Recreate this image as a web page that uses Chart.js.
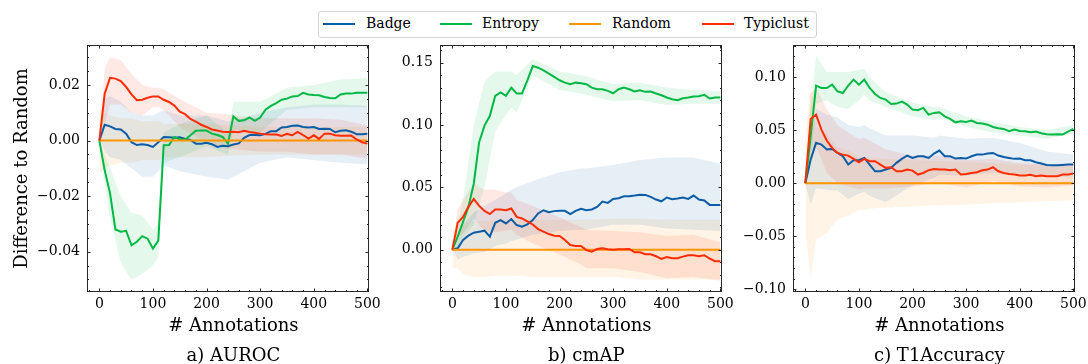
<!DOCTYPE html>
<html>
<head>
<meta charset="utf-8">
<script src="https://cdn.jsdelivr.net/npm/chart.js@4.4.0/dist/chart.umd.min.js"></script>
<style>
  html, body { margin: 0; padding: 0; background: #fff; }
  #wrap { position: relative; width: 1088px; height: 364px; overflow: hidden; }
  #wrap canvas { position: absolute; left: 0; top: 0; }
  #legend {
    position: absolute; left: 318px; top: 11px; width: 497px; height: 25px;
    border: 1px solid #d6d6d6; border-radius: 3px; background: #fff;
    font: 14px 'DejaVu Serif', serif; color: #000; z-index: 5;
  }
  #legend .swatch { position: absolute; top: 11px; width: 32px; height: 2.4px; }
  #legend .label { position: absolute; top: 3px; line-height: 17px; white-space: nowrap; }
</style>
</head>
<body>
<div id="wrap">
  <canvas id="c1" width="1088" height="364"></canvas>
  <canvas id="c2" width="1088" height="364"></canvas>
  <canvas id="c3" width="1088" height="364"></canvas>
  <div id="legend"></div>
</div>
<script>
// x values (annotations) of the mean lines and of the std bands
const annotations = [0, 10, 20, 30, 40, 50, 60, 70, 80, 90, 100, 110, 120, 130, 140, 150, 160, 170, 180, 190, 200,
  210, 220, 230, 240, 250, 260, 270, 280, 290, 300, 310, 320, 330, 340, 350, 360, 370, 380, 390, 400,
  410, 420, 430, 440, 450, 460, 470, 480, 490, 500];
const bandSteps = [0, 10, 20, 40, 60, 80, 100, 110, 120, 150, 200, 240, 250, 300, 350, 400, 450, 500];

const methods = ['Badge', 'Entropy', 'Random', 'Typiclust'];
const methodColors = ['#0C5DA5', '#00B945', '#FF9500', '#FF2C00'];
const xTicks = [0, 100, 200, 300, 400, 500];

// Random is the reference, so its difference is always zero
const randomLine = [0, 0, 0, 0, 0, 0, 0, 0, 0, 0, 0, 0, 0, 0, 0, 0, 0, 0, 0, 0, 0, 0, 0, 0, 0, 0,
  0, 0, 0, 0, 0, 0, 0, 0, 0, 0, 0, 0, 0, 0, 0, 0, 0, 0, 0, 0, 0, 0, 0, 0, 0];

// a) AUROC
const aurocTicks = [-0.04, -0.02, 0, 0.02];
const aurocBadge = [0, 0.0057, 0.0051, 0.0042, 0.0040, 0.0025, -0.0006, -0.0016, -0.0013, -0.0016, -0.0023, -0.0006, 0.0013, 0.0012, 0.0010, 0.0012, 0.0006, 0.0002, -0.0011, -0.0011, -0.0008, -0.0013, -0.0023, -0.0019, -0.0020, -0.0014, -0.0010, 0.0010, 0.0020, 0.0020, 0.0019, 0.0024, 0.0034, 0.0034, 0.0047, 0.0049, 0.0053, 0.0054, 0.0049, 0.0047, 0.0049, 0.0042, 0.0043, 0.0042, 0.0030, 0.0035, 0.0037, 0.0032, 0.0023, 0.0023, 0.0025];
const aurocEntropy = [0, -0.0107, -0.0190, -0.0320, -0.0328, -0.0325, -0.0377, -0.0364, -0.0344, -0.0353, -0.0389, -0.0360, -0.0017, -0.0016, 0.0013, 0.0004, 0.0004, 0.0019, 0.0035, 0.0036, 0.0036, 0.0025, 0.0020, 0.0013, -0.0011, 0.0087, 0.0071, 0.0073, 0.0083, 0.0071, 0.0083, 0.0111, 0.0125, 0.0135, 0.0147, 0.0151, 0.0159, 0.0160, 0.0172, 0.0166, 0.0164, 0.0163, 0.0157, 0.0153, 0.0152, 0.0166, 0.0169, 0.0169, 0.0172, 0.0172, 0.0172];
const aurocTypiclust = [0, 0.0169, 0.0226, 0.0223, 0.0214, 0.0193, 0.0166, 0.0145, 0.0147, 0.0154, 0.0159, 0.0159, 0.0147, 0.0139, 0.0126, 0.0104, 0.0095, 0.0078, 0.0068, 0.0057, 0.0049, 0.0040, 0.0036, 0.0032, 0.0031, 0.0032, 0.0030, 0.0035, 0.0031, 0.0028, 0.0025, 0.0023, 0.0022, 0.0022, 0.0017, 0.0024, 0.0019, 0.0031, 0.0020, 0.0007, 0.0019, 0.0006, 0.0025, 0.0025, 0.0019, 0.0017, 0.0017, 0.0018, 0.0004, -0.0006, -0.0011];
const aurocBadgeLow = [0, -0.004, -0.006, -0.007, -0.010, -0.013, -0.013, -0.011, -0.009, -0.011, -0.013, -0.014, -0.013, -0.008, -0.006, -0.007, -0.008, -0.0085];
const aurocBadgeHigh = [0, 0.015, 0.016, 0.014, 0.010, 0.009, 0.009, 0.010, 0.011, 0.009, 0.009, 0.007, 0.007, 0.010, 0.012, 0.013, 0.013, 0.0125];
const aurocEntropyLow = [0, -0.016, -0.028, -0.044, -0.050, -0.048, -0.045, -0.042, -0.008, -0.006, -0.002, -0.005, 0.004, 0.003, 0.011, 0.012, 0.012, 0.012];
const aurocEntropyHigh = [0, -0.005, -0.010, -0.020, -0.026, -0.027, -0.032, -0.030, 0.003, 0.006, 0.009, 0.003, 0.014, 0.014, 0.019, 0.020, 0.022, 0.0225];
const aurocRandomLow = [-0.012, -0.010, -0.009, -0.008, -0.008, -0.007, -0.007, -0.007, -0.006, -0.006, -0.006, -0.0055, -0.0055, -0.005, -0.005, -0.005, -0.005, -0.005];
const aurocRandomHigh = [0.012, 0.010, 0.009, 0.008, 0.008, 0.007, 0.007, 0.007, 0.006, 0.006, 0.006, 0.0055, 0.0055, 0.005, 0.005, 0.005, 0.005, 0.005];
const aurocTypiclustLow = [0, 0.006, 0.013, 0.013, 0.010, 0.009, 0.012, 0.012, 0.011, 0.005, -0.001, -0.003, -0.003, -0.004, -0.004, -0.005, -0.005, -0.0065];
const aurocTypiclustHigh = [0, 0.026, 0.030, 0.029, 0.024, 0.020, 0.019, 0.019, 0.0185, 0.015, 0.010, 0.0095, 0.009, 0.008, 0.008, 0.008, 0.0075, 0.0055];

// b) cmAP
const cmapTicks = [0, 0.05, 0.10, 0.15];
const cmapBadge = [0, 0.0011, 0.0077, 0.0112, 0.0136, 0.0144, 0.0152, 0.0104, 0.0215, 0.0237, 0.0210, 0.0245, 0.0197, 0.0184, 0.0202, 0.0237, 0.0290, 0.0316, 0.0300, 0.0309, 0.0311, 0.0311, 0.0285, 0.0311, 0.0327, 0.0316, 0.0322, 0.0343, 0.0386, 0.0375, 0.0407, 0.0412, 0.0428, 0.0428, 0.0434, 0.0441, 0.0439, 0.0423, 0.0402, 0.0388, 0.0418, 0.0404, 0.0410, 0.0418, 0.0407, 0.0434, 0.0402, 0.0394, 0.0359, 0.0359, 0.0359];
const cmapEntropy = [0, 0.0104, 0.0223, 0.0343, 0.0529, 0.0862, 0.0995, 0.1074, 0.1234, 0.1261, 0.1234, 0.1300, 0.1253, 0.1253, 0.1359, 0.1473, 0.1460, 0.1439, 0.1412, 0.1386, 0.1359, 0.1340, 0.1327, 0.1340, 0.1335, 0.1327, 0.1300, 0.1287, 0.1287, 0.1274, 0.1255, 0.1287, 0.1300, 0.1287, 0.1269, 0.1279, 0.1266, 0.1269, 0.1253, 0.1239, 0.1221, 0.1207, 0.1199, 0.1215, 0.1221, 0.1229, 0.1231, 0.1242, 0.1213, 0.1221, 0.1221];
const cmapTypiclust = [0, 0.0215, 0.0263, 0.0343, 0.0407, 0.0351, 0.0311, 0.0285, 0.0322, 0.0322, 0.0316, 0.0330, 0.0263, 0.0250, 0.0226, 0.0202, 0.0165, 0.0144, 0.0125, 0.0112, 0.0109, 0.0077, 0.0037, 0.0029, 0.0029, -0.0003, -0.0016, 0.0005, 0.0011, 0.0003, 0, 0.0003, 0.0003, 0.0005, -0.0021, -0.0021, -0.0037, -0.0037, -0.0053, -0.0074, -0.0059, -0.0069, -0.0069, -0.0056, -0.0045, -0.0045, -0.0053, -0.0045, -0.0072, -0.0093, -0.0093];
const cmapBadgeLow = [0, -0.008, -0.006, -0.003, -0.002, 0.003, 0.005, 0.007, 0.008, 0.012, 0.015, 0.016, 0.016, 0.020, 0.020, 0.017, 0.016, 0.015];
const cmapBadgeHigh = [0, 0.010, 0.020, 0.030, 0.035, 0.040, 0.045, 0.048, 0.050, 0.055, 0.062, 0.065, 0.065, 0.068, 0.072, 0.074, 0.074, 0.069];
const cmapEntropyLow = [0, 0.002, 0.010, 0.020, 0.050, 0.095, 0.108, 0.114, 0.110, 0.140, 0.128, 0.125, 0.124, 0.119, 0.120, 0.116, 0.117, 0.117];
const cmapEntropyHigh = [0, 0.020, 0.040, 0.100, 0.135, 0.143, 0.143, 0.143, 0.140, 0.153, 0.143, 0.140, 0.139, 0.133, 0.134, 0.130, 0.128, 0.127];
const cmapRandomLow = [-0.015, -0.015, -0.020, -0.022, -0.022, -0.021, -0.021, -0.021, -0.021, -0.022, -0.022, -0.022, -0.022, -0.022, -0.024, -0.024, -0.024, -0.024];
const cmapRandomHigh = [0.015, 0.015, 0.020, 0.023, 0.023, 0.024, 0.024, 0.024, 0.024, 0.024, 0.024, 0.024, 0.024, 0.025, 0.025, 0.024, 0.024, 0.024];
const cmapTypiclustLow = [0, 0.010, 0.013, 0.025, 0.015, 0.014, 0.015, 0.016, 0.012, 0.005, -0.004, -0.012, -0.015, -0.015, -0.018, -0.023, -0.022, -0.025];
const cmapTypiclustHigh = [0, 0.032, 0.040, 0.053, 0.048, 0.048, 0.046, 0.046, 0.040, 0.035, 0.026, 0.018, 0.016, 0.015, 0.014, 0.011, 0.012, 0.006];

// c) T1Accuracy
const t1Ticks = [-0.10, -0.05, 0, 0.05, 0.10];
const t1Badge = [0, 0.0223, 0.0381, 0.0365, 0.0318, 0.0324, 0.0286, 0.0255, 0.0176, 0.0217, 0.0217, 0.0239, 0.0176, 0.0113, 0.0113, 0.0129, 0.0145, 0.0192, 0.0230, 0.0261, 0.0239, 0.0255, 0.0255, 0.0239, 0.0280, 0.0308, 0.0255, 0.0255, 0.0233, 0.0239, 0.0233, 0.0255, 0.0270, 0.0270, 0.0280, 0.0286, 0.0261, 0.0248, 0.0239, 0.0230, 0.0233, 0.0217, 0.0217, 0.0198, 0.0186, 0.0173, 0.0170, 0.0170, 0.0173, 0.0176, 0.0176];
const t1Entropy = [0, 0.0443, 0.0921, 0.0899, 0.0899, 0.0931, 0.0868, 0.0852, 0.0921, 0.0978, 0.0931, 0.0978, 0.0899, 0.0843, 0.0805, 0.0789, 0.0748, 0.0752, 0.0770, 0.0742, 0.0695, 0.0689, 0.0711, 0.0648, 0.0664, 0.0670, 0.0632, 0.0607, 0.0575, 0.0585, 0.0579, 0.0591, 0.0569, 0.0563, 0.0553, 0.0531, 0.0519, 0.0513, 0.0491, 0.0506, 0.0494, 0.0491, 0.0481, 0.0487, 0.0472, 0.0462, 0.0459, 0.0462, 0.0459, 0.0487, 0.0513];
const t1Typiclust = [0, 0.0607, 0.0648, 0.0506, 0.0403, 0.0333, 0.0286, 0.0270, 0.0261, 0.0230, 0.0198, 0.0230, 0.0208, 0.0208, 0.0176, 0.0145, 0.0151, 0.0113, 0.0113, 0.0129, 0.0119, 0.0082, 0.0097, 0.0123, 0.0135, 0.0129, 0.0129, 0.0123, 0.0129, 0.0082, 0.0088, 0.0097, 0.0104, 0.0123, 0.0129, 0.0151, 0.0113, 0.0097, 0.0088, 0.0082, 0.0072, 0.0072, 0.0079, 0.0066, 0.0072, 0.0066, 0.0066, 0.0066, 0.0082, 0.0082, 0.0091];
const t1BadgeLow = [0, -0.020, -0.005, -0.006, -0.007, -0.015, -0.010, -0.008, -0.012, -0.018, -0.002, 0.005, 0.008, 0.007, 0.010, 0.009, 0.006, 0.006];
const t1BadgeHigh = [0, 0.040, 0.070, 0.065, 0.062, 0.055, 0.053, 0.055, 0.052, 0.045, 0.045, 0.043, 0.045, 0.042, 0.043, 0.038, 0.030, 0.027];
const t1EntropyLow = [0, 0.020, 0.075, 0.078, 0.072, 0.070, 0.078, 0.084, 0.078, 0.072, 0.063, 0.060, 0.062, 0.053, 0.048, 0.045, 0.042, 0.047];
const t1EntropyHigh = [0, 0.070, 0.120, 0.105, 0.105, 0.105, 0.107, 0.108, 0.100, 0.086, 0.076, 0.072, 0.072, 0.063, 0.058, 0.053, 0.050, 0.055];
const t1RandomLow = [-0.045, -0.090, -0.053, -0.047, -0.034, -0.031, -0.025, -0.025, -0.024, -0.023, -0.022, -0.021, -0.021, -0.020, -0.019, -0.018, -0.017, -0.016];
const t1RandomHigh = [0.045, 0.090, 0.053, 0.047, 0.034, 0.031, 0.025, 0.025, 0.024, 0.023, 0.022, 0.021, 0.021, 0.020, 0.019, 0.018, 0.017, 0.016];
const t1TypiclustLow = [0, 0.030, 0.035, 0.010, 0.000, -0.003, -0.006, -0.005, -0.005, -0.005, -0.003, 0.000, 0.000, -0.004, 0.002, -0.003, -0.004, -0.002];
const t1TypiclustHigh = [0, 0.085, 0.090, 0.070, 0.055, 0.048, 0.042, 0.043, 0.040, 0.032, 0.026, 0.026, 0.026, 0.022, 0.023, 0.019, 0.018, 0.019];

const serif = "'DejaVu Serif', serif";
Chart.defaults.font.family = serif;
Chart.defaults.font.size = 14;
Chart.defaults.color = '#000';

function rgba(hex, a) {
  const n = parseInt(hex.slice(1), 16);
  return 'rgba(' + (n >> 16) + ',' + ((n >> 8) & 255) + ',' + (n & 255) + ',' + a + ')';
}

function fmt(v) {
  const r = Math.round(v * 100) / 100;
  return (r < 0 ? '\u2212' : '') + Math.abs(r).toFixed(2);
}

// box around the plot plus inward major/minor ticks on all four sides
const frameTicks = {
  id: 'frameTicks',
  afterDatasetsDraw(chart, args, o) {
    const { ctx, chartArea: a, scales: { x, y } } = chart;
    ctx.save();
    ctx.strokeStyle = '#262626';
    ctx.lineWidth = 1;
    ctx.beginPath();
    for (let k = Math.ceil(x.min / o.xMinor); k * o.xMinor <= x.max; k++) {
      const len = k % o.xEvery === 0 ? 3.5 : 2;
      const px = Math.round(x.getPixelForValue(k * o.xMinor)) + 0.5;
      ctx.moveTo(px, a.bottom); ctx.lineTo(px, a.bottom - len);
      ctx.moveTo(px, a.top); ctx.lineTo(px, a.top + len);
    }
    for (let k = Math.ceil(y.min / o.yMinor - 1e-9); k * o.yMinor <= y.max + 1e-12; k++) {
      const len = k % o.yEvery === 0 ? 3.5 : 2;
      const py = Math.round(y.getPixelForValue(k * o.yMinor)) + 0.5;
      ctx.moveTo(a.left, py); ctx.lineTo(a.left + len, py);
      ctx.moveTo(a.right, py); ctx.lineTo(a.right - len, py);
    }
    ctx.stroke();
    ctx.strokeRect(a.left + 0.5, a.top + 0.5, a.width - 1, a.height - 1);
    ctx.restore();
  }
};

// axis label, panel caption and (first panel only) the y label
const captions = {
  id: 'captions',
  afterDraw(chart, args, o) {
    const { ctx, chartArea: a, scales: { x } } = chart;
    const cx = x.getPixelForValue(o.center);
    ctx.save();
    ctx.fillStyle = '#000';
    ctx.font = '18px ' + serif;
    ctx.textAlign = 'center';
    ctx.textBaseline = 'alphabetic';
    ctx.fillText(o.xLabel, cx, 331);
    ctx.fillText(o.title, cx, 361);
    if (o.yLabel) {
      ctx.translate(27, (a.top + a.bottom) / 2);
      ctx.rotate(-Math.PI / 2);
      ctx.fillText(o.yLabel, 0, 0);
    }
    ctx.restore();
  }
};

const panels = [
  {
    id: 'c1', title: 'a) AUROC', yLabel: 'Difference to Random',
    lines: [aurocBadge, aurocEntropy, randomLine, aurocTypiclust],
    lows: [aurocBadgeLow, aurocEntropyLow, aurocRandomLow, aurocTypiclustLow],
    highs: [aurocBadgeHigh, aurocEntropyHigh, aurocRandomHigh, aurocTypiclustHigh],
    yTicks: aurocTicks, yMin: -0.0545, yMax: 0.0344, yMinor: 0.005, yEvery: 4,
    left: 87, right: 369
  },
  {
    id: 'c2', title: 'b) cmAP', yLabel: null,
    lines: [cmapBadge, cmapEntropy, randomLine, cmapTypiclust],
    lows: [cmapBadgeLow, cmapEntropyLow, cmapRandomLow, cmapTypiclustLow],
    highs: [cmapBadgeHigh, cmapEntropyHigh, cmapRandomHigh, cmapTypiclustHigh],
    yTicks: cmapTicks, yMin: -0.034, yMax: 0.1642, yMinor: 0.01, yEvery: 5,
    left: 440, right: 722
  },
  {
    id: 'c3', title: 'c) T1Accuracy', yLabel: null,
    lines: [t1Badge, t1Entropy, randomLine, t1Typiclust],
    lows: [t1BadgeLow, t1EntropyLow, t1RandomLow, t1TypiclustLow],
    highs: [t1BadgeHigh, t1EntropyHigh, t1RandomHigh, t1TypiclustHigh],
    yTicks: t1Ticks, yMin: -0.1027, yMax: 0.1305, yMinor: 0.01, yEvery: 5,
    left: 793, right: 1075
  }
];

panels.forEach(p => {
  const datasets = [];
  methods.forEach((name, i) => {
    const color = methodColors[i];
    datasets.push({
      label: name + ' low',
      data: bandSteps.map((x, j) => ({ x: x, y: p.lows[i][j] })),
      borderWidth: 0, borderColor: 'transparent', fill: false, order: 20
    });
    datasets.push({
      label: name + ' band',
      data: bandSteps.map((x, j) => ({ x: x, y: p.highs[i][j] })),
      borderWidth: 0, borderColor: 'transparent',
      backgroundColor: rgba(color, 0.1), fill: '-1', order: 20
    });
  });
  methods.forEach((name, i) => {
    datasets.push({
      label: name,
      data: annotations.map((x, j) => ({ x: x, y: p.lines[i][j] })),
      borderColor: methodColors[i], borderWidth: 2, fill: false,
      order: methods.length - i
    });
  });

  new Chart(document.getElementById(p.id), {
    type: 'line',
    data: { datasets: datasets },
    options: {
      responsive: false,
      animation: false,
      devicePixelRatio: 1,
      layout: { padding: { left: 0, right: 1088 - p.right, top: 45, bottom: 48 } },
      elements: { point: { radius: 0 }, line: { tension: 0 } },
      plugins: {
        legend: { display: false },
        tooltip: { enabled: false },
        filler: { drawTime: 'beforeDatasetsDraw' },
        frameTicks: { xMinor: 20, xEvery: 5, yMinor: p.yMinor, yEvery: p.yEvery },
        captions: { center: 250, xLabel: '# Annotations', title: p.title, yLabel: p.yLabel }
      },
      scales: {
        x: {
          type: 'linear', min: -23, max: 503,
          grid: { display: false, drawTicks: false },
          border: { display: false },
          afterBuildTicks: s => { s.ticks = xTicks.map(v => ({ value: v })); },
          afterFit: s => { s.height = 24; s.paddingLeft = 0; s.paddingRight = 0; },
          ticks: { padding: 4, maxRotation: 0, autoSkip: false, font: { family: serif, size: 14 }, callback: v => String(v) }
        },
        y: {
          min: p.yMin, max: p.yMax,
          grid: { display: false, drawTicks: false },
          border: { display: false },
          afterBuildTicks: s => { s.ticks = p.yTicks.map(v => ({ value: v })); },
          afterFit: s => { s.width = p.left; },
          ticks: { padding: 7, autoSkip: false, font: { family: serif, size: 14 }, callback: v => fmt(v) }
        }
      }
    },
    plugins: [frameTicks, captions]
  });
});

// shared legend above the panels, placed like the figure's legend box
const legend = document.getElementById('legend');
const swatchLeft = [4, 121, 250, 383];
const labelLeft = [47, 163, 293, 425];
methods.forEach((name, i) => {
  const sw = document.createElement('span');
  sw.className = 'swatch';
  sw.style.left = swatchLeft[i] + 'px';
  sw.style.background = methodColors[i];
  const label = document.createElement('span');
  label.className = 'label';
  label.style.left = labelLeft[i] + 'px';
  label.textContent = name;
  legend.appendChild(sw);
  legend.appendChild(label);
});
</script>
</body>
</html>
